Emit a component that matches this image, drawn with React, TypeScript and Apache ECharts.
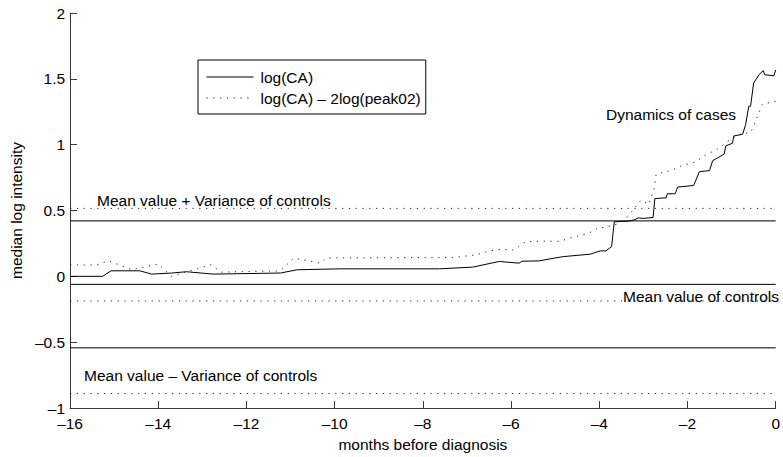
import React, { useEffect, useRef } from "react";
import * as echarts from "echarts";

// Median log intensity of cases, months before diagnosis
const caMonths = [
  -16, -15.26, -15.07, -14.42, -14.15, -13.7, -13.36, -12.76, -11.23, -10.85, -9.87, -7.62,
  -6.87, -6.27, -5.82, -5.75, -5.37, -5.03, -4.81, -4.21, -3.98, -3.85, -3.72, -3.66, -3.34,
  -3.19, -3.12, -3.0, -2.78, -2.74, -2.48, -2.46, -2.28, -2.22, -1.86, -1.73, -1.5, -1.43,
  -1.17, -1.13, -0.98, -0.95, -0.75, -0.68, -0.61, -0.57, -0.5, -0.38, -0.28, -0.25, -0.04, 0,
];
const caValues = [
  0.0, 0.0, 0.042, 0.042, 0.017, 0.025, 0.035, 0.017, 0.025, 0.05, 0.057, 0.057,
  0.07, 0.113, 0.1, 0.115, 0.117, 0.138, 0.15, 0.168, 0.193, 0.193, 0.226, 0.414, 0.419,
  0.43, 0.444, 0.44, 0.447, 0.59, 0.597, 0.627, 0.627, 0.678, 0.69, 0.795, 0.803, 0.878,
  0.928, 0.991, 1.011, 1.066, 1.079, 1.154, 1.292, 1.292, 1.468, 1.531, 1.563, 1.531, 1.523, 1.568,
];

const peakMonths = [
  -16, -15.4, -15.13, -14.6, -14.0, -13.7, -13.33, -12.8, -12.58, -11.23, -10.93, -10.32,
  -10.18, -7.32, -6.8, -6.5, -6.2, -5.97, -5.86, -5.67, -5.15, -5.0, -4.85, -4.7, -4.4,
  -4.13, -4.02, -3.87, -3.57, -3.45, -3.34, -3.2, -3.05, -2.88, -2.76, -2.71, -2.37, -2.14,
  -1.84, -1.62, -1.32, -1.02, -0.8, -0.57, -0.5, -0.38, -0.31, -0.15, 0,
];
const peakValues = [
  0.087, 0.085, 0.118, 0.05, 0.093, 0.0, 0.038, 0.088, 0.032, 0.042, 0.138, 0.1,
  0.14, 0.143, 0.163, 0.193, 0.206, 0.2, 0.218, 0.263, 0.268, 0.263, 0.27, 0.288, 0.313,
  0.343, 0.371, 0.371, 0.4, 0.43, 0.46, 0.52, 0.58, 0.545, 0.66, 0.778, 0.803, 0.84,
  0.866, 0.916, 0.966, 1.041, 1.079, 1.092, 1.141, 1.242, 1.305, 1.318, 1.33,
];

// Controls: [log(CA), log(CA) – 2log(peak02)]
const controlMeans = [-0.061, -0.187];
const controlVariances = [0.482, 0.703];

const seriesNames = ["log(CA)", "log(CA) \u2013 2log(peak02)"];
const xRange = [-16, 0];

const FONT = "'Liberation Sans', Arial, Helvetica, sans-serif";
const FS = 15.5;
const INK = "#000";
const AXIS = "#3a3a3a";
const DOTS = [1.2, 5.6];

function tickText(v: number): string {
  return v < 0 ? "\u2013" + String(Math.abs(v)) : String(v);
}

export default function App() {
  const ref = useRef<HTMLDivElement>(null);

  useEffect(() => {
    if (!ref.current) return;
    const chart = echarts.init(ref.current, null, { renderer: "svg" });

    const pair = (xs: number[], ys: number[]) => xs.map((x, i) => [x, ys[i]]);

    const controlLines: any[] = [];
    controlMeans.forEach((m, k) => {
      const levels = [m + controlVariances[k], m, m - controlVariances[k]];
      levels.forEach((lv, j) => {
        controlLines.push({
          name: `control-${k}-${j}`,
          type: "line",
          data: [
            [xRange[0], lv],
            [xRange[1], lv],
          ],
          symbol: "none",
          silent: true,
          itemStyle: { color: INK },
          lineStyle: k === 0 ? { color: INK, width: 1 } : { color: "#222", width: 1, type: DOTS },
          z: 1,
        });
      });
    });

    const label = (text: string, x: number, y: number, align = "left") => ({
      type: "text",
      x,
      y,
      silent: true,
      style: {
        text,
        fill: INK,
        fontSize: FS,
        fontFamily: FONT,
        align,
        verticalAlign: "middle",
      },
    });

    chart.setOption({
      animation: false,
      backgroundColor: "#fff",
      textStyle: { fontFamily: FONT },
      grid: { left: 68, right: 5, top: 13, bottom: 45, containLabel: false },
      legend: {
        data: seriesNames,
        orient: "vertical",
        left: 198,
        top: 60,
        itemWidth: 47,
        itemHeight: 14,
        itemGap: 5,
        padding: [9, 5, 8, 8],
        borderColor: INK,
        borderWidth: 1,
        backgroundColor: "#fff",
        itemStyle: { opacity: 0 },
        lineStyle: { width: 1 },
        textStyle: { fontSize: FS, color: INK, fontFamily: FONT, padding: [0, 0, 0, 2] },
      },
      xAxis: {
        type: "value",
        min: -16,
        max: 0,
        interval: 2,
        name: "months before diagnosis",
        nameLocation: "middle",
        nameGap: 28,
        nameTextStyle: { fontSize: FS, color: INK, fontFamily: FONT },
        axisLine: { show: true, onZero: false, lineStyle: { color: AXIS, width: 1 } },
        axisTick: { show: true, inside: true, length: 7, lineStyle: { color: AXIS } },
        axisLabel: { fontSize: FS, color: INK, margin: 7, formatter: tickText, fontFamily: FONT },
        splitLine: { show: false },
      },
      yAxis: {
        type: "value",
        min: -1,
        max: 2,
        interval: 0.5,
        name: "median log intensity",
        nameLocation: "middle",
        nameGap: 43,
        nameTextStyle: { fontSize: FS, color: INK, fontFamily: FONT },
        axisLine: { show: true, onZero: false, lineStyle: { color: AXIS, width: 1 } },
        axisTick: { show: true, inside: true, length: 7, lineStyle: { color: AXIS } },
        axisLabel: { fontSize: FS, color: INK, margin: 5, formatter: tickText, fontFamily: FONT },
        splitLine: { show: false },
      },
      graphic: [
        label("Mean value + Variance of controls", 97, 200),
        label("Mean value of controls", 779, 296, "right"),
        label("Mean value \u2013 Variance of controls", 84, 375),
        label("Dynamics of cases", 606, 114),
      ],
      series: [
        ...controlLines,
        {
          name: seriesNames[0],
          type: "line",
          data: pair(caMonths, caValues),
          symbol: "none",
          itemStyle: { color: INK },
          lineStyle: { color: INK, width: 1 },
          z: 3,
        },
        {
          name: seriesNames[1],
          type: "line",
          data: pair(peakMonths, peakValues),
          symbol: "none",
          itemStyle: { color: "#222" },
          lineStyle: { color: "#222", width: 1, type: DOTS },
          z: 3,
        },
      ],
    });

    return () => chart.dispose();
  }, []);

  return (
    <div
      ref={ref}
      style={{ position: "fixed", left: 0, top: 0, width: 783, height: 457, background: "#fff" }}
    />
  );
}
